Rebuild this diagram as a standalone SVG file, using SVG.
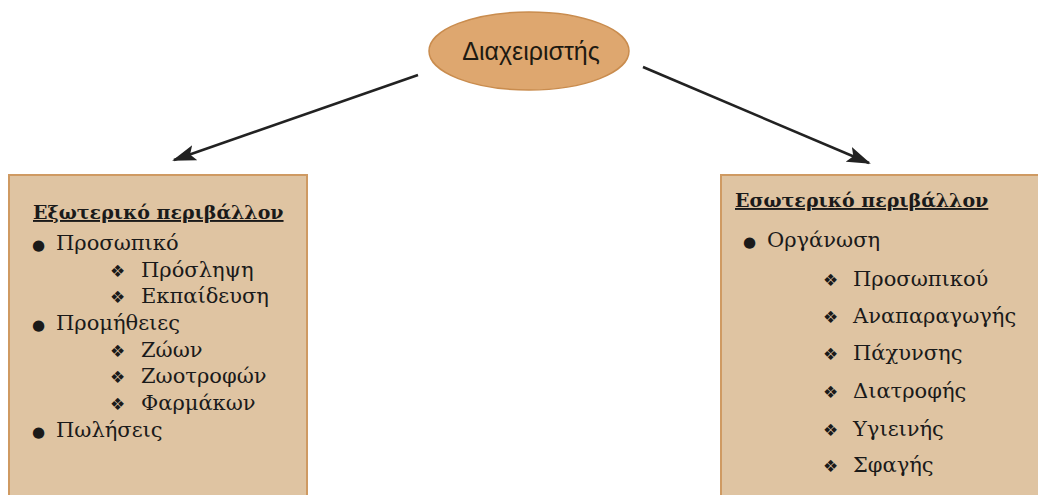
<svg xmlns="http://www.w3.org/2000/svg" width="1038" height="495" viewBox="0 0 1038 495">
<defs>
<style>
.box{fill:#dfc4a2;stroke:#cf9a62;stroke-width:2}
.t{font-family:"DejaVu Serif","Liberation Serif",serif;font-size:21px;fill:#1a1a1a}
.h{font-family:"DejaVu Serif","Liberation Serif",serif;font-size:19px;font-weight:bold;fill:#1a1a1a;text-decoration:underline}
.b{font-family:"DejaVu Sans",sans-serif;font-size:17px;fill:#1a1a1a}
.d{font-family:"DejaVu Sans",sans-serif;font-size:15px;fill:#1a1a1a}
.e{font-family:"Liberation Sans","DejaVu Sans",sans-serif;font-size:25px;fill:#1e1a12}
.con{stroke:#222;stroke-width:2.6;fill:none}
</style>
<marker id="ah" viewBox="0 0 24 16" refX="22" refY="8" markerWidth="24" markerHeight="16" markerUnits="userSpaceOnUse" orient="auto">
<path d="M0,0 L24,8 L0,16 L5,8 Z" fill="#222"/>
</marker>
</defs>
<rect width="1038" height="495" fill="#ffffff"/>
<g id="connectors">
<line class="con" x1="418" y1="75" x2="174" y2="160" marker-end="url(#ah)"/>
<line class="con" x1="643" y1="67" x2="869" y2="163" marker-end="url(#ah)"/>
</g>
<g id="manager">
<ellipse cx="529" cy="51" rx="100" ry="39" fill="#dea76f" stroke="#c98c4e" stroke-width="1.5"/>
<text class="e" x="531" y="60" text-anchor="middle">Διαχειριστής</text>
</g>
<g id="external">
<rect class="box" x="9" y="175" width="298" height="330"/>
<text class="h" x="33" y="219">Εξωτερικό περιβάλλον</text>
<text class="d" x="32" y="250">●</text><text class="t" x="56" y="250">Προσωπικό</text>
<text class="b" x="110" y="277">❖</text><text class="t" x="141" y="277">Πρόσληψη</text>
<text class="b" x="110" y="303">❖</text><text class="t" x="141" y="303">Εκπαίδευση</text>
<text class="d" x="32" y="330">●</text><text class="t" x="56" y="330">Προμήθειες</text>
<text class="b" x="110" y="357">❖</text><text class="t" x="141" y="357">Ζώων</text>
<text class="b" x="110" y="383">❖</text><text class="t" x="141" y="383">Ζωοτροφών</text>
<text class="b" x="110" y="410">❖</text><text class="t" x="141" y="410">Φαρμάκων</text>
<text class="d" x="32" y="437">●</text><text class="t" x="56" y="437">Πωλήσεις</text>
</g>
<g id="internal">
<rect class="box" x="721" y="175" width="330" height="330"/>
<text class="h" x="735" y="207">Εσωτερικό περιβάλλον</text>
<text class="d" x="743" y="247">●</text><text class="t" x="767" y="247">Οργάνωση</text>
<text class="b" x="823" y="286">❖</text><text class="t" x="853" y="286">Προσωπικού</text>
<text class="b" x="823" y="323">❖</text><text class="t" x="853" y="323">Αναπαραγωγής</text>
<text class="b" x="823" y="360">❖</text><text class="t" x="853" y="360">Πάχυνσης</text>
<text class="b" x="823" y="398">❖</text><text class="t" x="853" y="398">Διατροφής</text>
<text class="b" x="823" y="436">❖</text><text class="t" x="853" y="436">Υγιεινής</text>
<text class="b" x="823" y="472">❖</text><text class="t" x="853" y="472">Σφαγής</text>
</g>
</svg>
